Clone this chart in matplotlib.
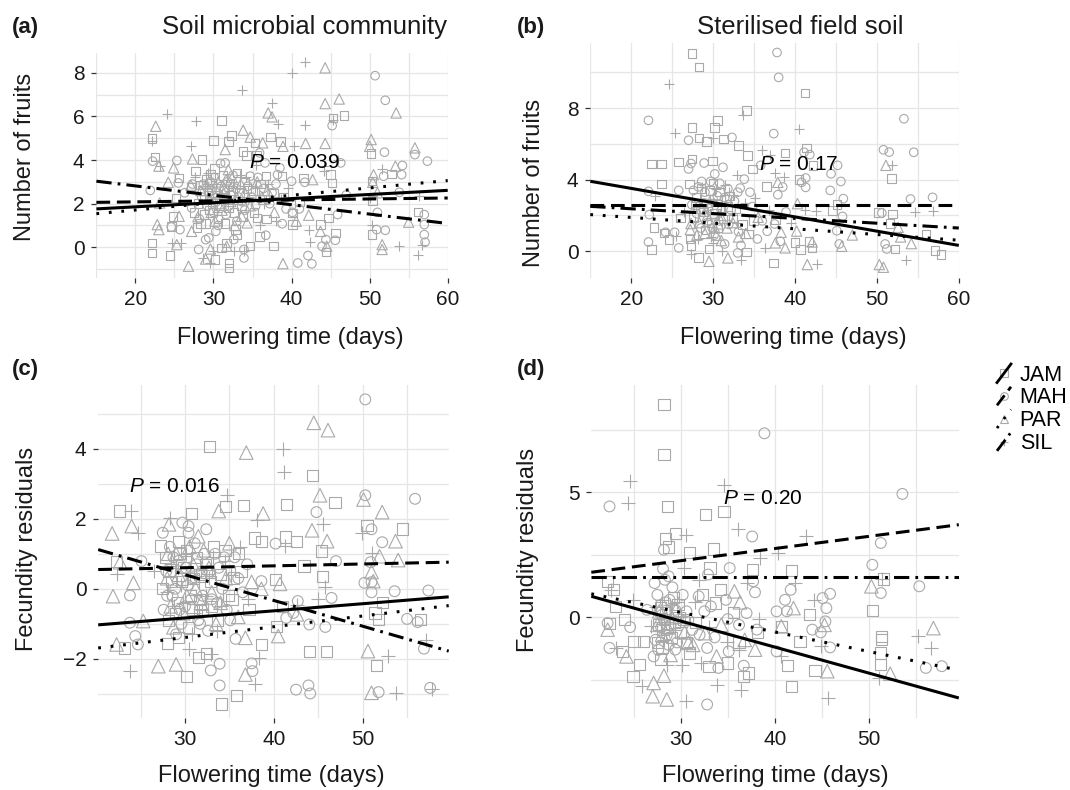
import matplotlib
matplotlib.use("Agg")
import matplotlib.pyplot as plt
from matplotlib.lines import Line2D
from matplotlib.legend_handler import HandlerBase

plt.rcParams['font.family'] = ['Liberation Sans', 'DejaVu Sans']
plt.rcParams['mathtext.fontset'] = 'custom'
plt.rcParams['mathtext.it'] = 'Liberation Sans:italic'
plt.rcParams['mathtext.rm'] = 'Liberation Sans'

# ---- data (flowering time in days, response) ----
groups = ['JAM', 'MAH', 'PAR', 'SIL']

# (a) soil microbial community, number of fruits
a_jam = [(22.1, 4.99), (22.5, 4.14), (22.1, 0.2), (22.1, -0.26), (24.4, -0.38), (24.6, 0.96), (25.2, 2.25),
         (24.8, 1.42), (25.6, 3.18), (27.1, 2.77), (27.7, 3.49), (28.5, 4.02), (28.3, 2.85), (30.0, 4.9),
         (31.0, 5.82), (31.9, 4.86), (32.3, 5.12), (29.6, 3.33), (30.2, -0.57), (32.0, -0.72), (32.0, -0.95),
         (31.0, -0.03), (31.7, 0.2), (32.8, 0.81), (33.0, 0.58), (33.8, 1.42), (33.8, 4.4), (34.2, 4.2),
         (34.7, 0.05), (35.3, 4.79), (35.5, 4.2), (35.6, 1.35), (35.9, 0.5), (36.7, 3.26), (37.3, 5.06),
         (37.7, 0.05), (38.6, 4.86), (37.7, 2.48), (38.8, 3.26), (40.1, 1.57), (40.1, 1.04), (41.5, 3.18),
         (43.7, 1.04), (44.4, -0.21), (45.0, 3.33), (44.7, 1.35), (45.3, 5.93), (46.7, 6.04), (45.6, 0.66),
         (45.2, 2.95), (50.2, 4.3), (50.3, 3.03), (50.3, 0.58), (50.4, 2.14), (52.8, 3.36), (56.2, 1.62),
         (28.0, 2.0), (28.8, 1.5), (29.4, 2.4), (30.3, 2.7), (30.8, 1.9), (31.4, 2.3), (32.1, 2.9), (32.6, 1.6),
         (33.3, 2.5), (34.0, 3.0), (35.0, 2.6), (36.2, 2.2), (29.0, 1.1), (30.6, 1.3), (27.5, 1.6), (36.8, 1.3),
         (39.0, 2.3), (41.0, 2.1), (27.9, 0.9), (28.6, 2.6), (29.1, 3.1), (29.9, 2.0), (30.5, 2.4), (31.2, 3.3),
         (31.9, 1.8), (32.4, 2.6), (33.0, 3.4), (33.6, 1.9), (34.3, 2.7), (35.2, 1.6), (36.0, 2.9), (30.1, 3.6),
         (31.5, 1.1), (28.3, 1.1), (29.5, 1.7)]
a_mah = [(22.2, 3.95), (21.9, 2.61), (25.3, 3.98), (25.5, 2.95), (24.6, 0.93), (25.7, 0.81), (26.3, 2.5),
         (27.2, 1.8), (28.1, -0.1), (29.0, 0.35), (29.4, 0.43), (30.3, 0.73), (30.9, 3.85), (31.5, 3.87),
         (32.6, 0.35), (33.9, -0.49), (33.9, -0.1), (34.7, 3.26), (35.9, 4.33), (36.6, 3.87), (36.7, 0.55),
         (38.2, 3.33), (38.5, 3.64), (38.8, 1.08), (39.3, 1.76), (40.0, 3.03), (40.1, 1.6), (41.0, 1.76),
         (41.7, 2.98), (40.8, -0.72), (42.1, -0.38), (42.6, -0.76), (43.9, 0.05), (44.4, 0.35), (45.6, 0.32),
         (45.2, 5.58), (46.3, 3.87), (45.9, 1.5), (50.7, 7.87), (52.0, 6.74), (51.9, 4.36), (51.8, 3.26),
         (54.2, 3.75), (54.1, 3.33), (53.8, 2.52), (55.8, 4.25), (57.4, 3.95), (57.0, 1.5), (57.0, 1.04),
         (57.0, 0.58), (57.1, 0.23), (51.0, 1.6), (50.9, 0.81), (52.0, 0.78), (47.0, 2.4),
         (28.5, 2.3), (29.2, 1.9), (29.8, 2.6), (30.4, 2.1), (31.0, 2.8), (31.6, 1.5), (32.2, 2.4), (32.9, 2.7),
         (33.6, 2.1), (34.4, 2.8), (35.4, 1.9), (36.4, 2.7), (37.2, 2.0), (38.0, 2.9), (28.2, 1.3), (30.0, 1.6),
         (33.0, 1.2), (27.3, 2.9), (29.6, 3.0), (28.7, 2.9), (29.4, 2.5), (30.1, 3.2), (30.8, 2.2), (31.3, 2.6),
         (32.0, 1.9), (32.5, 3.3), (33.2, 2.3), (34.0, 1.7), (34.9, 2.3), (35.7, 3.2), (37.5, 2.5), (30.6, 1.0),
         (31.8, 3.0)]
a_par = [(22.6, 5.55), (23.0, 3.72), (22.8, 1.04), (23.0, 0.81), (23.1, 2.03), (24.2, 2.98), (24.9, 3.64),
         (25.6, 1.42), (25.3, 0.12), (26.8, -0.87), (27.2, 0.73), (27.3, 4.05), (27.1, 2.85), (29.0, -0.54),
         (29.6, -0.08), (31.5, 4.48), (31.7, 0.05), (31.9, 3.56), (33.6, 1.42), (33.8, 5.37), (34.3, 1.12),
         (34.7, 5.05), (36.3, 4.79), (37.0, 6.16), (37.5, 5.98), (38.9, -0.75), (38.9, 4.63), (40.6, 1.19),
         (41.8, 4.76), (42.2, 1.47), (42.7, 3.1), (44.3, 8.23), (44.3, 6.59), (46.1, 6.8), (44.3, 4.76),
         (43.7, 0.73), (44.5, 0.05), (50.2, 4.94), (50.0, 4.63), (50.5, 3.33), (50.4, 2.98), (51.6, 0.12),
         (51.6, -0.1), (53.3, 3.72), (53.4, 6.16), (55.0, 1.15), (55.8, 4.56), (51.0, 2.5),
         (28.4, 2.6), (29.5, 2.2), (30.6, 3.0), (31.3, 2.5), (32.4, 3.2), (33.1, 2.2), (34.0, 2.5), (35.6, 3.0),
         (36.9, 2.6), (30.2, 1.2), (32.7, 1.0), (28.0, 1.4), (37.8, 1.6), (29.1, 2.9), (30.0, 2.5), (30.9, 2.0),
         (31.6, 3.1), (32.2, 2.1), (33.5, 2.9), (34.7, 1.9), (36.2, 2.3), (29.7, 1.6), (31.1, 1.7)]
a_sil = [(24.1, 6.12), (22.1, 4.86), (23.1, 3.72), (24.7, 0.2), (25.8, 0.2), (27.7, 5.81), (27.1, 4.63),
         (28.7, -0.49), (33.7, 7.2), (35.5, 3.79), (37.5, 6.62), (38.3, 5.66), (40.0, 7.97), (41.7, 8.49),
         (41.7, 5.63), (40.3, 4.63), (44.1, 3.72), (44.1, 3.49), (42.2, 0.81), (42.3, 0.23), (45.3, 5.83),
         (46.0, 4.0), (51.6, 3.59), (50.0, 2.25), (50.3, 1.04), (53.8, 0.05), (56.3, 2.34), (56.2, -0.34),
         (56.7, 0.12), (33.9, -0.18), (32.6, -0.18), (30.0, -0.18), (29.5, -0.7),
         (28.9, 2.8), (29.9, 2.3), (30.7, 2.5), (31.8, 2.0), (32.5, 2.8), (33.4, 3.3), (34.6, 2.3), (35.8, 2.4),
         (37.0, 2.9), (38.6, 2.2), (39.5, 2.7), (27.6, 3.2), (36.0, 1.0), (38.0, 1.2), (28.3, 2.4), (29.3, 3.4),
         (30.3, 2.9), (31.0, 2.1), (32.0, 2.6), (33.0, 2.0), (34.1, 3.2), (35.3, 2.7), (36.5, 2.0), (30.5, 1.6)]

# (b) sterilised field soil, number of fruits
b_jam = [(27.4, 11.03), (28.3, 10.29), (22.5, 4.87), (23.7, 4.87), (25.8, 4.99), (27.4, 6.92), (28.3, 6.33),
         (29.2, 6.14), (30.2, 6.92), (30.5, 7.31), (31.3, 6.27), (33.1, 5.9), (34.1, 7.87), (34.2, 5.34),
         (34.8, 4.6), (38.8, 5.49), (41.2, 8.84), (41.4, 5.77), (40.5, 4.0), (42.2, 4.8), (27.4, 5.15),
         (29.9, 5.05), (27.1, 3.76), (23.7, 3.76), (22.8, 1.34), (22.5, 0.09), (24.0, 1.02), (24.6, 0.65),
         (26.0, 1.86), (27.2, 0.69), (27.3, 0.32), (28.2, -0.33), (29.5, 0.13), (30.6, 1.34), (34.1, -0.04),
         (34.3, 0.97), (34.9, 1.71), (36.5, 3.63), (37.6, 1.77), (37.4, -0.65), (40.0, 0.5), (40.7, 0.09),
         (41.7, 0.56), (42.1, 0.19), (44.6, 2.29), (45.1, 2.6), (50.2, 2.18), (51.8, 4.06), (51.9, 2.08),
         (51.6, 1.54), (52.2, 0.13), (56.0, 0.97), (57.1, 0.06), (57.8, -0.19),
         (28.0, 3.0), (28.8, 2.2), (29.6, 3.4), (30.4, 2.6), (31.2, 1.8), (32.0, 3.1), (32.8, 2.4), (33.6, 1.5),
         (27.6, 1.9), (29.0, 1.2), (31.6, 2.9), (30.0, 3.8), (28.5, 3.5), (29.2, 2.7), (30.1, 2.1), (30.8, 3.3),
         (31.8, 2.5), (32.4, 1.9), (27.8, 2.6), (29.8, 1.6)]
b_mah = [(22.1, 7.31), (37.8, 11.1), (38.0, 9.71), (37.4, 6.57), (32.3, 6.36), (27.0, 6.2), (53.3, 7.4),
         (50.8, 5.67), (51.5, 5.54), (54.5, 5.53), (45.2, 4.8), (44.4, 4.33), (45.6, 3.9), (44.3, 3.4),
         (45.9, 2.94), (54.1, 2.92), (56.8, 3.01), (45.8, 1.95), (45.1, 1.15), (45.4, 0.41), (51.0, 0.41),
         (51.2, 0.13), (50.6, 2.14), (41.1, 5.53), (41.8, 5.4), (41.3, 4.09), (41.3, 3.57), (40.8, 3.85),
         (38.5, 3.59), (37.9, 3.16), (35.8, 4.8), (31.2, 4.69), (30.2, 4.32), (28.9, 4.93), (27.3, 4.9),
         (27.0, 4.6), (25.8, 3.4), (22.1, 3.35), (22.1, 0.52), (22.2, 2.05), (25.8, 0.19), (24.2, 1.06),
         (25.3, 1.06), (31.4, 0.41), (33.0, -0.09), (33.4, 0.33), (35.4, 0.69), (38.2, 0.56), (37.5, 1.53),
         (36.6, 1.12), (33.3, 3.53), (33.8, 4.03), (34.5, 3.3),
         (28.2, 3.6), (28.9, 2.7), (29.7, 3.9), (30.5, 3.1), (31.0, 2.3), (31.8, 3.5), (32.6, 2.8), (29.3, 1.6),
         (30.1, 0.9), (28.5, 1.3), (27.4, 2.6), (34.8, 2.5), (36.0, 1.7), (38.9, 2.2), (33.1, 1.1), (30.8, 3.8),
         (29.0, 3.3), (28.0, 2.1), (28.6, 3.9), (29.4, 2.4), (30.0, 2.9), (30.7, 1.7), (31.4, 3.0), (32.2, 2.3),
         (33.0, 3.3), (27.6, 3.4), (29.9, 1.3), (31.9, 1.5)]
b_par = [(51.1, 4.8), (40.3, 2.66), (38.3, 1.06), (38.8, 0.19), (37.6, 0.47), (40.2, 1.13), (42.1, 0.52),
         (41.5, -0.74), (45.7, 0.28), (47.0, 0.91), (50.3, -0.74), (50.8, -0.89), (52.9, 0.8), (52.6, 1.34),
         (54.2, 0.43), (31.8, -0.37), (29.5, -0.56), (27.2, 1.21), (27.3, 1.55), (29.5, 1.77), (30.6, 1.53),
         (33.1, 0.8), (37.9, 3.85),
         (28.0, 0.9), (29.0, 1.0), (30.2, 1.3), (31.0, 0.6), (32.4, 1.6), (34.0, 1.0), (28.6, 2.4), (30.9, 2.0),
         (35.5, 1.9), (28.3, 1.6), (29.3, 2.0), (30.4, 0.9), (31.7, 1.3)]
b_sil = [(24.6, 9.36), (25.4, 6.6), (30.0, 6.33), (33.7, 7.63), (40.5, 6.85), (36.0, 5.67), (37.0, 5.4),
         (32.9, 4.28), (38.7, 4.13), (37.6, 4.35), (51.8, 4.8), (54.7, 2.18), (56.8, 2.27), (53.6, -0.47),
         (42.7, -0.71), (42.6, 2.23), (41.2, 2.33), (36.3, 0.19), (33.4, -0.5), (31.1, 0.0), (30.0, 0.47),
         (27.3, -0.13), (28.2, 0.69), (25.5, 0.87), (22.9, 3.07), (31.4, 3.73), (32.4, 3.16),
         (28.4, 2.9), (29.3, 2.3), (30.3, 3.5), (31.5, 2.6), (32.3, 2.0), (33.9, 2.7), (35.1, 3.0), (27.8, 1.7),
         (29.8, 0.8), (36.8, 2.3), (39.5, 1.6), (26.5, 2.2), (28.7, 3.6), (29.6, 2.9), (30.9, 2.2), (31.9, 3.3),
         (32.9, 1.6), (27.9, 2.5)]

# (c) soil microbial community, fecundity residuals
c_jam = [(32.8, 4.06), (44.4, 3.24), (41.4, 2.41), (46.9, 2.46), (36.6, 2.38), (34.6, 2.36), (30.7, 2.15),
         (22.6, 2.22), (50.5, 1.81), (54.5, 1.71), (41.3, 1.48), (42.6, 1.36), (37.8, 1.45), (38.6, 1.36),
         (45.4, 1.08), (45.5, 0.36), (43.4, 0.65), (27.2, 1.22), (29.3, 1.36), (32.4, 0.48), (35.5, 0.31),
         (40.2, 0.27), (51.4, -0.69), (51.8, -0.88), (56.5, -0.88), (52.2, -0.4), (28.0, -1.56), (23.2, -1.69),
         (31.5, -1.97), (30.2, -2.5), (32.4, -1.85), (34.1, -3.29), (35.8, -3.05), (38.6, -1.59), (44.0, -1.78),
         (45.9, -1.78), (51.6, -2.19), (40.3, -1.07), (29.3, -1.4), (22.3, 0.79), (41.0, -0.5), (36.0, 1.0),
         (27.8, 0.9), (28.5, 0.2), (29.2, -0.4), (29.9, 0.6), (30.6, -0.2), (31.3, 0.9), (32.0, -0.6), (32.9, 0.2),
         (33.7, -0.9), (34.5, 1.1), (35.3, -0.3), (36.3, 0.5), (28.1, -0.9), (30.4, -1.1), (33.2, 1.2),
         (37.2, -0.6), (27.5, 0.0), (31.7, 0.4), (28.2, 0.5), (28.9, -0.7), (29.6, 0.2), (30.2, 1.1),
         (30.9, -0.6), (31.6, -0.3), (32.3, 0.7), (33.0, -0.5), (34.0, 0.4), (34.9, -0.2), (29.4, 1.0), (31.0, 0.3)]
c_mah = [(50.3, 5.41), (50.3, 2.67), (55.9, 2.57), (44.8, 2.19), (51.0, 1.7), (52.2, 1.33), (40.2, 1.29),
         (47.0, 0.79), (50.9, 0.76), (51.0, 0.19), (50.2, 0.17), (53.6, -0.07), (57.4, -0.05), (46.5, -0.26),
         (51.0, -0.1), (55.0, -0.86), (56.2, -0.95), (56.9, -1.71), (45.8, -1.09), (44.0, -1.02), (32.9, -2.33),
         (33.9, -2.14), (33.9, -2.76), (37.5, -2.13), (37.6, -2.35), (42.5, -2.88), (43.9, -2.76), (44.1, -2.99),
         (51.8, -2.95), (57.6, -2.83), (35.7, -1.43), (23.8, -0.97), (24.4, -1.35), (24.7, -1.59), (23.8, -0.19),
         (25.1, 0.79), (27.5, 1.6), (30.4, 1.79), (29.7, 1.89), (32.4, 1.7), (38.6, 0.22), (41.4, -0.83),
         (42.2, -0.69), (42.7, -0.35),
         (27.9, 0.5), (28.6, -0.2), (29.3, 0.8), (30.0, -0.5), (30.8, 0.3), (31.5, -0.9), (32.2, 1.0), (33.0, -0.3),
         (33.8, 0.6), (34.7, -0.6), (35.6, 0.9), (36.5, -0.1), (28.3, 1.2), (29.6, -1.0), (31.1, 1.3),
         (32.6, -1.2), (34.2, 0.0), (37.0, 0.7), (27.6, -0.6), (30.3, 0.1), (31.9, 0.5), (33.4, 1.0), (28.9, 0.0),
         (28.0, -0.2), (28.7, 0.9), (29.4, -0.6), (30.1, 0.6), (30.7, -0.3), (31.3, 0.7), (32.0, -0.2),
         (32.8, 0.5), (33.6, -0.4), (34.4, 0.9), (35.1, -0.9), (36.0, 0.3), (29.0, -1.3), (31.7, -1.0), (30.4, 1.6)]
c_par = [(44.5, 4.74), (46.1, 4.53), (36.9, 3.89), (45.2, 2.67), (50.1, 2.55), (38.8, 2.15), (52.2, 2.19),
         (33.8, 2.22), (28.2, 1.84), (24.0, 1.79), (21.8, 1.58), (44.3, 1.67), (46.0, 1.36), (53.7, 1.36),
         (54.0, 0.82), (51.9, 0.93), (51.0, 0.48), (51.2, 0.22), (22.7, 0.76), (21.9, -0.21), (24.2, 0.17),
         (38.6, 0.0), (40.7, 0.14), (27.0, -2.21), (29.0, -2.16), (36.8, -2.45), (40.5, -1.35), (36.8, -1.4),
         (50.6, -1.78), (51.0, -2.97), (22.3, -1.59), (25.3, -0.92), (42.6, -0.73), (31.5, 1.5),
         (28.0, 0.3), (29.0, 1.0), (29.8, -0.7), (30.9, 0.7), (31.8, -0.4), (32.7, 0.6), (33.5, -1.0), (34.6, 0.3),
         (36.0, -0.8), (28.7, -1.1), (30.5, 1.2), (35.0, 1.3), (37.5, 0.2), (28.4, -0.5), (29.3, 0.4),
         (30.2, -0.2), (31.2, 0.0), (32.1, 1.1), (33.0, -0.1), (34.0, -0.4), (28.1, 1.0)]
c_sil = [(41.0, 3.98), (41.2, 3.33), (34.7, 2.67), (28.3, 2.03), (38.1, 1.96), (45.5, 1.84), (49.9, 1.6),
         (51.0, 1.01), (45.8, 0.05), (22.4, 0.41), (24.7, 1.6), (23.9, 2.22), (26.5, 0.5), (23.8, -2.35),
         (38.3, -1.97), (37.9, -2.73), (53.8, -2.97), (57.8, -2.86), (52.9, -1.92), (57.1, -1.45), (30.5, -1.73),
         (32.9, -1.85), (42.6, -0.45), (41.3, 1.22), (45.0, -0.3),
         (28.4, 0.7), (29.5, 0.1), (30.1, 1.0), (31.0, -0.7), (31.6, 0.2), (32.4, -0.2), (33.1, 0.9), (34.0, -0.5),
         (35.2, 0.4), (36.2, 1.2), (37.1, -0.3), (28.8, -0.5), (33.6, -1.2), (30.8, -1.3), (28.0, -0.1),
         (29.0, 0.6), (30.6, 0.4), (31.9, -0.6), (32.7, 0.3), (34.5, 0.8), (29.8, -0.4)]

# (d) sterilised field soil, fecundity residuals
d_jam = [(28.2, 8.5), (28.2, 6.49), (28.6, 4.43), (32.6, 4.1), (34.6, 4.23), (28.4, 3.16), (28.7, 2.81),
         (29.4, 3.36), (30.9, 2.59), (33.5, 2.73), (33.1, 1.97), (37.6, 1.9), (41.8, 1.88), (51.6, 1.53),
         (50.4, 0.28), (22.2, 1.44), (22.8, 1.1), (23.0, 0.44), (24.0, -0.09), (22.4, -0.23), (23.8, -1.36),
         (24.9, -2.35), (25.6, -1.89), (25.0, -0.98), (26.0, -0.98), (27.8, -1.69), (30.3, -0.09), (30.6, -1.02),
         (30.9, -1.42), (33.7, 0.57), (33.0, -1.95), (35.0, -1.82), (36.7, -2.35), (37.2, -2.22), (36.2, -1.02),
         (41.8, -2.75), (42.7, -0.96), (41.4, -1.93), (43.7, 0.11), (44.3, -2.13), (51.4, -0.89), (51.3, -1.42),
         (51.3, -1.89), (51.4, -0.76), (40.7, -0.36), (27.5, -1.02), (28.1, -0.49), (34.2, 1.1),
         (27.6, -0.3), (28.4, 0.2), (29.0, -0.8), (29.7, 0.5), (28.0, -1.2), (31.6, -0.2), (32.3, 0.9), (35.6, 0.2),
         (38.2, -0.6), (29.3, -0.2), (27.8, 0.4), (28.6, -0.4), (29.2, 0.8), (30.0, -0.6), (28.3, -0.1),
         (29.8, 0.0)]
d_mah = [(22.4, 4.43), (38.9, 7.35), (53.6, 4.93), (37.6, 3.23), (51.3, 2.97), (50.4, 2.1), (51.3, 0.97),
         (55.4, 1.24), (35.2, 1.97), (32.9, 1.71), (28.2, 2.7), (28.1, 1.94), (28.7, 1.64), (37.7, 1.44),
         (41.7, 1.1), (41.1, 0.7), (41.3, 0.24), (45.9, 0.94), (45.1, 0.77), (45.5, 0.37), (44.0, -0.49),
         (45.9, -1.2), (45.4, -0.16), (56.1, -2.02), (57.8, -1.95), (24.6, -0.39), (22.4, -1.22), (22.2, -0.23),
         (32.8, -3.48), (34.0, -2.02), (36.7, -1.93), (35.1, -1.36), (32.8, -1.22), (40.2, -1.36), (38.1, -0.49),
         (37.0, 0.17), (35.0, -0.07), (33.2, 0.44), (32.5, 0.24), (27.1, -1.56), (29.4, -1.29), (27.2, 1.37),
         (28.8, 0.7), (26.4, 0.3), (30.6, 0.24), (31.9, 0.84), (40.2, 0.24), (44.9, -0.6),
         (27.5, 0.9), (28.0, 0.1), (28.5, -0.7), (27.9, -0.4), (29.1, 1.2), (29.6, -1.0), (30.2, 0.9),
         (31.2, -0.5), (33.6, -0.8), (34.8, 0.7), (36.2, -0.3), (37.9, 1.0), (28.3, 1.5), (27.3, -0.9),
         (27.7, 0.2), (28.4, 0.6), (28.9, -0.3), (29.4, 0.3), (27.6, -1.3), (28.7, -1.1), (30.8, -0.1), (32.0, -0.7)]
d_par = [(56.9, -0.43), (50.3, 1.24), (42.0, 0.37), (40.7, -0.36), (37.9, -1.29), (45.6, -2.15), (45.3, -0.3),
         (52.3, -2.25), (28.2, -2.33), (27.1, -2.62), (27.0, -3.15), (28.5, -3.28), (24.2, -1.56), (22.2, -0.49),
         (35.7, 1.04), (36.3, 0.6), (32.6, -0.63), (30.8, -1.02), (27.7, 0.24), (33.8, -1.56),
         (28.6, -0.4), (29.5, 0.3), (30.4, -0.6), (31.3, -1.1), (34.3, -0.3), (36.8, -0.9), (28.9, -1.5),
         (28.0, -0.7), (29.0, 0.0), (27.5, -0.3)]
d_sil = [(24.6, 5.43), (24.4, 4.56), (34.6, 5.29), (36.1, 3.52), (30.6, 3.3), (38.4, 2.37), (40.3, 2.57),
         (43.3, 3.23), (30.3, 1.97), (37.1, 1.37), (42.2, 1.37), (44.2, 0.7), (51.4, 1.53), (55.3, -0.73),
         (56.6, -1.22), (44.9, -1.16), (45.7, -3.22), (51.1, -2.42), (33.9, -2.69), (36.4, -2.89), (30.6, -3.35),
         (25.9, -2.73), (23.1, -1.22), (22.6, 1.1), (24.9, 0.7), (30.1, -1.89), (32.1, -1.82), (40.7, -1.56),
         (36.2, -1.29), (26.8, -0.36), (38.3, -0.07), (31.9, 1.5),
         (27.4, 0.4), (28.2, -0.9), (28.8, 0.5), (29.4, -0.5), (30.0, 0.0), (31.5, 0.6), (33.0, -0.4),
         (34.9, -1.0), (28.5, -1.9), (28.0, 0.7), (28.7, -0.5), (29.6, 0.6), (27.9, -0.2)]

# fitted lines: response at left and right x limits, in group order
a_fit = [[1.76, 2.61], [2.06, 2.26], [1.54, 3.06], [3.03, 1.09]]
b_fit = [[3.91, 0.33], [2.60, 2.60], [2.05, 0.62], [2.51, 1.30]]
c_fit = [[-1.03, -0.23], [0.55, 0.76], [-1.69, -0.48], [1.12, -1.78]]
d_fit = [[0.84, -3.22], [1.80, 3.70], [0.94, -2.11], [1.60, 1.60]]

p_labels = ['0.039', '0.17', '0.016', '0.20']

# ---- styling ----
W, H = 1070, 790
GRAY = '#a9a9a9'
markers = ['s', 'o', '^', '+']
lstyles = ['-', (0, (4.5, 2.2)), (0, (0.9, 3.2)), (0, (5, 2, 0.9, 2))]


def px_rect(left, top, right, bottom):
    return [left / W, 1 - bottom / H, (right - left) / W, (bottom - top) / H]


def draw_panel(ax, pts, fits, xlim, ylim, xmaj, xmin, ymaj, ymin, ptxt, msz):
    ax.set_xlim(xlim)
    ax.set_ylim(ylim)
    ax.set_xticks(xmaj)
    ax.set_xticks(xmin, minor=True)
    ax.set_yticks(ymaj)
    ax.set_yticks(ymin, minor=True)
    ax.grid(which='both', color='#e6e6e6', lw=0.9)
    ax.set_axisbelow(True)
    for s in ax.spines.values():
        s.set_visible(False)
    ax.tick_params(which='major', length=3.5, width=0.9, color='#333333',
                   labelsize=15, pad=5, labelcolor='#1a1a1a')
    ax.tick_params(which='minor', length=0)
    for p, m, sz in zip(pts, markers, msz):
        xs = [q[0] for q in p]
        ys = [q[1] for q in p]
        if m == '+':
            ax.scatter(xs, ys, marker=m, c=GRAY, s=sz, linewidths=0.8, zorder=2)
        else:
            ax.scatter(xs, ys, marker=m, facecolors='none', edgecolors=GRAY,
                       s=sz, linewidths=0.8, zorder=2)
    for f, ls in zip(fits, lstyles):
        ax.plot(xlim, f, color='black', lw=2.2, ls=ls, zorder=3,
                solid_capstyle='butt', dash_capstyle='butt')
    ax.text(ptxt[0], ptxt[1], r'$P$ = ' + ptxt[2], fontsize=15, va='center', zorder=4)


fig = plt.figure(figsize=(W / 100, H / 100), dpi=100)

top_sz = [38, 38, 55, 60]
bot_sz = [65, 60, 95, 110]

ax_a = fig.add_axes(px_rect(96.4, 53, 447.7, 278))
draw_panel(ax_a, [a_jam, a_mah, a_par, a_sil], a_fit, (15, 60), (-1.41, 8.91),
           [20, 30, 40, 50, 60], [15, 25, 35, 45, 55], [0, 2, 4, 6, 8], [-1, 1, 3, 5, 7],
           (34.6, 3.87, p_labels[0]), top_sz)

ax_b = fig.add_axes(px_rect(590.3, 43, 958.8, 278))
draw_panel(ax_b, [b_jam, b_mah, b_par, b_sil], b_fit, (15, 60), (-1.49, 11.63),
           [20, 30, 40, 50, 60], [15, 25, 35, 45, 55], [0, 4, 8], [2, 6, 10],
           (35.6, 4.84, p_labels[1]), top_sz)

ax_c = fig.add_axes(px_rect(98.2, 385, 448.7, 718))
draw_panel(ax_c, [c_jam, c_mah, c_par, c_sil], c_fit, (20.23, 59.69), (-3.69, 5.82),
           [30, 40, 50], [25, 35, 45, 55], [-2, 0, 2, 4], [-3, -1, 1, 3, 5],
           (23.7, 2.93, p_labels[2]), bot_sz)

ax_d = fig.add_axes(px_rect(591.3, 385, 958.8, 718))
draw_panel(ax_d, [d_jam, d_mah, d_par, d_sil], d_fit, (20.46, 59.61), (-4.02, 9.28),
           [30, 40, 50], [25, 35, 45, 55], [0, 5], [-2.5, 2.5, 7.5],
           (34.5, 4.76, p_labels[3]), bot_sz)


def ftext(x, y, s, **kw):
    fig.text(x / W, 1 - y / H, s, **kw)


# titles, panel tags and axis labels
ftext(304, 27, 'Soil microbial community', fontsize=18.5, ha='center', va='center', color='#1a1a1a')
ftext(800, 27, 'Sterilised field soil', fontsize=18.5, ha='center', va='center', color='#1a1a1a')
for tag, (x, y) in zip(['(a)', '(b)', '(c)', '(d)'], [(12, 27), (517, 27), (12, 369), (517, 369)]):
    ftext(x, y, tag, fontsize=16, fontweight='bold', ha='left', va='center', color='#1a1a1a')
for (x, y) in [(290, 338), (793, 338), (271, 776), (775, 776)]:
    ftext(x, y, 'Flowering time (days)', fontsize=17, ha='center', va='center', color='#1a1a1a')
for (x, y) in [(25, 157), (534, 183)]:
    ftext(x, y, 'Number of fruits', fontsize=17, ha='center', va='center', rotation=90, color='#1a1a1a')
for (x, y) in [(27, 549), (528, 550)]:
    ftext(x, y, 'Fecundity residuals', fontsize=17, ha='center', va='center', rotation=90, color='#1a1a1a')


# legend with diagonal line keys (abline style)
class DiagHandler(HandlerBase):
    def create_artists(self, legend, orig_handle, xdescent, ydescent, width, height, fontsize, trans):
        x0, y0 = -xdescent, -ydescent
        mk = Line2D([x0 + width / 2], [y0 + height / 2], marker=orig_handle.get_marker(), ms=5.5,
                    mfc='none', mec=GRAY, mew=0.8, ls='none', transform=trans)
        ln = Line2D([x0, x0 + width], [y0, y0 + height])
        ln.update_from(orig_handle)
        ln.set_marker('None')
        ln.set_transform(trans)
        return [mk, ln]


handles = [Line2D([], [], color='black', lw=2.0, ls=ls, marker=m, dash_capstyle='butt')
           for ls, m in zip(lstyles, markers)]
fig.legend(handles, groups, loc='upper left', bbox_to_anchor=(997 / W, 1 - 364 / H),
           frameon=False, fontsize=15.5, handlelength=0.65, handleheight=0.95,
           labelspacing=0.05, handletextpad=0.4, borderpad=0, borderaxespad=0,
           handler_map={Line2D: DiagHandler()})

fig.savefig('out.png', dpi=100)
